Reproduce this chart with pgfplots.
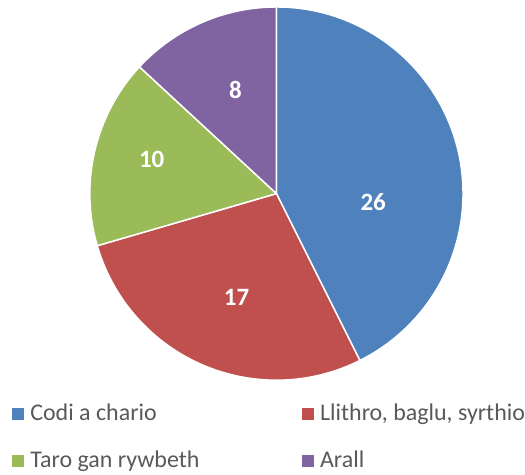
\documentclass[border=0pt]{standalone}
\usepackage{pgfplots}
\usepackage{pgfplotstable}
\pgfplotsset{compat=1.18}
\usepackage{fontspec}
\setmainfont{Carlito}
\definecolor{cblue}{HTML}{4F81BD}
\definecolor{cred}{HTML}{C0504D}
\definecolor{cgreen}{HTML}{9BBB59}
\definecolor{cpurple}{HTML}{8064A2}
\definecolor{tgray}{HTML}{595959}
\pgfplotstableread{
value
26
17
10
8
}\piedata
\begin{document}
\begin{tikzpicture}
\pgfplotstablegetelem{0}{value}\of\piedata \let\vA\pgfplotsretval
\pgfplotstablegetelem{1}{value}\of\piedata \let\vB\pgfplotsretval
\pgfplotstablegetelem{2}{value}\of\piedata \let\vC\pgfplotsretval
\pgfplotstablegetelem{3}{value}\of\piedata \let\vD\pgfplotsretval
\pgfmathsetmacro\tot{\vA+\vB+\vC+\vD}
\pgfmathsetmacro\aA{90-360*\vA/\tot}
\pgfmathsetmacro\aB{\aA-360*\vB/\tot}
\pgfmathsetmacro\aC{\aB-360*\vC/\tot}
\pgfmathsetmacro\aD{\aC-360*\vD/\tot}
\begin{axis}[
  x=1bp, y=1bp,
  xmin=0, xmax=525, ymin=0, ymax=476,
  hide axis, clip=false,
  legend columns=2,
  legend cell align=left,
  legend image code/.code={\fill[#1] (0bp,-6bp) rectangle (11bp,5bp);},
  legend style={draw=none, fill=none, inner sep=0pt, outer sep=0pt,
    at={(axis cs:12,71)}, anchor=north west,
    font=\fontsize{24bp}{28bp}\selectfont, text=tgray,
    row sep=29bp,
    nodes={inner sep=0pt},
    /tikz/every odd column/.append style={column sep=7bp},
    /tikz/every even column/.append style={column sep=0bp}},
]
\path (axis cs:0,0) rectangle (axis cs:525,476);
\addlegendimage{cblue}
\addlegendentry{\makebox[272bp][l]{Codi a chario}}
\addlegendimage{cred}
\addlegendentry{Llithro, baglu, syrthio}
\addlegendimage{cgreen}
\addlegendentry{\makebox[272bp][l]{Taro gan rywbeth}}
\addlegendimage{cpurple}
\addlegendentry{Arall}
\fill[cblue, draw=white, line width=1.5bp, line join=round] (axis cs:277,282) -- ++(90:187bp) arc[start angle=90, end angle=\aA, radius=187bp] -- cycle;
\fill[cred, draw=white, line width=1.5bp, line join=round] (axis cs:277,282) -- ++(\aA:187bp) arc[start angle=\aA, end angle=\aB, radius=187bp] -- cycle;
\fill[cgreen, draw=white, line width=1.5bp, line join=round] (axis cs:277,282) -- ++(\aB:187bp) arc[start angle=\aB, end angle=\aC, radius=187bp] -- cycle;
\fill[cpurple, draw=white, line width=1.5bp, line join=round] (axis cs:277,282) -- ++(\aC:187bp) arc[start angle=\aC, end angle=\aD, radius=187bp] -- cycle;
\node[text=white, font=\fontsize{25bp}{30bp}\selectfont\bfseries] at (axis cs:374,273) {\vA};
\node[text=white, font=\fontsize{25bp}{30bp}\selectfont\bfseries] at (axis cs:237,178) {\vB};
\node[text=white, font=\fontsize{25bp}{30bp}\selectfont\bfseries] at (axis cs:152,316) {\vC};
\node[text=white, font=\fontsize{25bp}{30bp}\selectfont\bfseries] at (axis cs:236,386) {\vD};
\end{axis}
\end{tikzpicture}
\end{document}
